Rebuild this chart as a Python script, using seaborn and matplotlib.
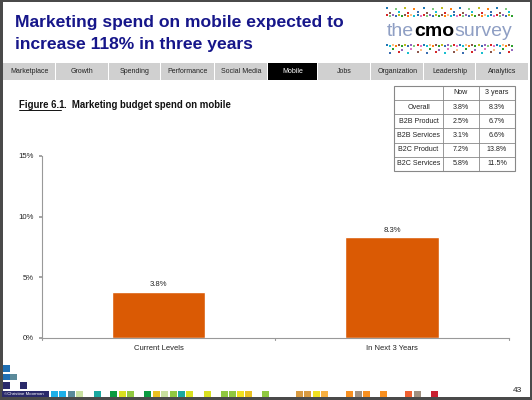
import matplotlib
matplotlib.use("Agg")
import matplotlib.pyplot as plt
from matplotlib.patches import Rectangle
import seaborn as sns
import pandas as pd

# ---- data ----
categories = ["Current Levels", "In Next 3 Years"]
values = [3.8, 8.3]
bar_labels = ["3.8%", "8.3%"]
y_ticks = [0, 5, 10, 15]
y_tick_labels = ["0%", "5%", "10%", "15%"]

table_header = ["", "Now", "3 years"]
table_rows = ["Overall", "B2B Product", "B2B Services", "B2C Product", "B2C Services"]
table_now = ["3.8%", "2.5%", "3.1%", "7.2%", "5.8%"]
table_3y = ["8.3%", "6.7%", "6.6%", "13.8%", "11.5%"]

nav_tabs = ["Marketplace", "Growth", "Spending", "Performance", "Social Media",
            "Mobile", "Jobs", "Organization", "Leadership", "Analytics"]
active_tab = "Mobile"

title_lines = ["Marketing spend on mobile expected to", "increase 118% in three years"]
figure_caption = "Marketing budget spend on mobile"
page_number = "43"

sns.set_theme(style="white")
plt.rcParams['font.family'] = ['Liberation Sans', 'DejaVu Sans']

W, H = 532, 400
fig = plt.figure(figsize=(W / 100, H / 100), dpi=100)
fig.patch.set_facecolor("white")

# overlay axes in pixel coordinates (y down)
ov = fig.add_axes([0, 0, 1, 1])
ov.set_xlim(0, W)
ov.set_ylim(H, 0)
ov.axis("off")
ov.set_zorder(0)

# frame
for (x, y, w, h) in [(0, 0, W, 1.5), (0, 0, 3, H), (W - 2.5, 0, 2.5, H), (0, H - 3, W, 3)]:
    ov.add_patch(Rectangle((x, y), w, h, color="#4a4a4a", lw=0))

# title
ov.text(15, 22.7, title_lines[0], fontsize=12.6, fontweight="bold", color="#16168A", va="center")
ov.text(15, 44.8, title_lines[1], fontsize=12.6, fontweight="bold", color="#16168A", va="center")

# logo
logo_colors = ["#1f77b4", "#2ca02c", "#d62728", "#ff7f0e", "#9467bd", "#17becf", "#bcbd22",
               "#e377c2", "#8c564b", "#7fc97f", "#fdc086", "#386cb0"]
for i in range(42):
    for r in range(3):
        if (i + r * 2) % 3 == 0 or r == 2:
            ov.add_patch(Rectangle((386 + i * 3.05, 7 + r * 3.5 + (i % 2)), 2, 2,
                                   color=logo_colors[(i * 7 + r) % 12], lw=0))
        if (i + r) % 3 == 0 or r == 0:
            ov.add_patch(Rectangle((386 + i * 3.05, 44 + r * 3.5 + (i % 2)), 2, 2,
                                   color=logo_colors[(i * 5 + r * 3) % 12], lw=0))
t1 = ov.text(387, 31, "the", fontsize=14, color="#8f9fc4", va="center")
t2 = ov.annotate("cmo", xy=(1, 0), xycoords=t1, fontsize=14, fontweight="bold", color="black",
                 va="bottom", ha="left")
ov.annotate("survey", xy=(1, 0), xycoords=t2, fontsize=14, color="#8f9fc4", va="bottom", ha="left")

# nav bar
edges = [3, 56, 108.6, 161, 214.5, 268, 318, 371, 424, 476, 529]
for i, tab in enumerate(nav_tabs):
    x0, x1 = edges[i], edges[i + 1]
    active = tab == active_tab
    ov.add_patch(Rectangle((x0, 63), x1 - x0 - 1, 16.7, color="black" if active else "#d0d0d0", lw=0))
    ov.text((x0 + x1) / 2, 71.3, tab, fontsize=5.0, ha="center", va="center",
            color="white" if active else "#222222")

# caption
cap = ov.text(19, 105.5, "Figure 6.1", fontsize=6.9, fontweight="bold", color="#111111", va="center")
ov.plot([19, 60.5], [109.5, 109.5], color="#111111", lw=0.7)
ov.annotate(".  " + figure_caption, xy=(1, 0), xycoords=cap, fontsize=6.9, fontweight="bold",
            color="#111111", va="bottom", ha="left")

# table
col_x = [394, 443, 479, 515]
row_y = [86, 100, 114.2, 128.4, 142.6, 156.8, 171]
ov.add_patch(Rectangle((col_x[0], row_y[0]), col_x[-1] - col_x[0], row_y[-1] - row_y[0],
                       fill=False, ec="#888888", lw=0.8))
for x in col_x[1:-1]:
    ov.plot([x, x], [row_y[0], row_y[-1]], color="#888888", lw=0.6)
for y in row_y[1:-1]:
    ov.plot([col_x[0], col_x[-1]], [y, y], color="#888888", lw=0.6)
all_rows = [table_header] + [[r, n, t] for r, n, t in zip(table_rows, table_now, table_3y)]
for ri, row in enumerate(all_rows):
    yc = (row_y[ri] + row_y[ri + 1]) / 2
    for ci, txt in enumerate(row):
        ov.text((col_x[ci] + col_x[ci + 1]) / 2, yc, txt, fontsize=5.1, ha="center",
                va="center", color="#222222")

# bottom decoration
ov.add_patch(Rectangle((2, 390.5), 47, 6.5, color="#2a2a6a", lw=0))
ov.text(4, 393.8, "©Christine Moorman", fontsize=3.2, color="white", va="center")
sq = [(3, 382, "#2a2a6a"), (20, 382, "#2a2a6a"), (3, 373.5, "#1f6fb4"), (10, 373.5, "#5b8a9a"),
      (3, 365, "#1f6fb4")]
for x, y, c in sq:
    ov.add_patch(Rectangle((x, y), 6.5, 6.5, color=c, lw=0))
bottom_sq = [(51, "#1fb0e8"), (59, "#1fb0e8"), (68, "#5a8a9a"), (76, "#c8e0a0"), (94, "#1aa8a0"),
             (110, "#0a9a40"), (119, "#d8e020"), (127, "#90c840"), (144, "#0a9a40"), (153, "#e8c020"),
             (161, "#c8e0a0"), (170, "#90c840"), (178, "#1aa8a0"), (186, "#d8e020"), (204, "#d8e020"),
             (221, "#90c840"), (229, "#90c840"), (237, "#f0e020"), (245, "#e8c020"), (262, "#90c840"),
             (296, "#d89a40"), (304, "#d89a40"), (313, "#f0e020"), (321, "#f8b040"), (346, "#f89020"),
             (355, "#a09080"), (363, "#f89020"), (380, "#f89020"), (405, "#f06030"), (414, "#a09080"),
             (431, "#c82030")]
for x, c in bottom_sq:
    ov.add_patch(Rectangle((x, 390.5), 6.5, 6.5, color=c, lw=0))
ov.text(517, 391, page_number, fontsize=6.0, ha="center", va="center", color="#222222")

# ---- chart ----
ax = fig.add_axes([41.7 / W, 1 - 338 / H, (509 - 41.7) / W, (338 - 156) / H])
ax.set_zorder(2)
ax.patch.set_alpha(0)
df = pd.DataFrame({"category": categories, "value": values})
sns.barplot(data=df, x="category", y="value", color="#DA5A04", saturation=1, width=0.4, ax=ax)
for p, lab in zip(ax.patches, bar_labels):
    ax.annotate(lab, (p.get_x() + p.get_width() / 2, p.get_height()), xytext=(0, 2.5),
                textcoords="offset points", ha="center", va="bottom", fontsize=5.6, color="#222222")
ax.set_ylim(0, 15)
ax.set_xlim(-0.5, 1.5)
ax.set_yticks(y_ticks)
ax.set_yticklabels(y_tick_labels, fontsize=5.6, color="#222222")
ax.set_xlabel("")
ax.set_ylabel("")
ax.tick_params(axis="x", length=0, labelsize=5.5, labelcolor="#222222", pad=5)
ax.tick_params(axis="y", length=2, color="#999999", direction="out", pad=3.5, left=True)
for xb in [-0.5, 0.5, 1.5]:
    ax.plot([xb, xb], [0, -0.2], color="#999999", lw=0.8, clip_on=False)
for s in ["top", "right"]:
    ax.spines[s].set_visible(False)
for s in ["left", "bottom"]:
    ax.spines[s].set_color("#999999")
    ax.spines[s].set_linewidth(0.8)

fig.savefig("out.png", dpi=100)
